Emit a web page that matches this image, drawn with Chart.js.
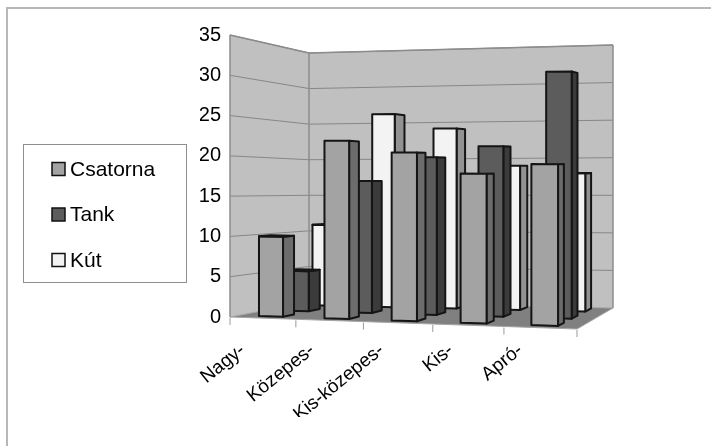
<!DOCTYPE html>
<html>
<head>
<meta charset="utf-8">
<script src="https://cdn.jsdelivr.net/npm/chart.js@4/dist/chart.umd.min.js"></script>
<style>
  html, body { margin: 0; padding: 0; background: #ffffff; }
  canvas { display: block; }
</style>
</head>
<body>
<canvas id="chart" width="711" height="446"></canvas>
<script>
// ---- data ----
const categories = ['Nagy-', 'Közepes-', 'Kis-közepes-', 'Kis-', 'Apró-'];
const seriesLabels = ['Csatorna', 'Tank', 'Kút'];
const csatorna = [10, 22, 20.6, 18.1, 19.3];
const tank = [5.2, 17, 20.1, 21.5, 30.8];
const kut = [11, 26, 24, 19, 18];
const yTicks = [0, 5, 10, 15, 20, 25, 30, 35];

// ---- styling ----
const FONT = '"Liberation Sans", Arial, Helvetica, sans-serif';
const shades = [
  { front: '#a3a3a3', side: '#6c6c6c', top: '#808080' },
  { front: '#5c5c5c', side: '#3b3b3b', top: '#4a4a4a' },
  { front: '#f3f3f3', side: '#929292', top: '#c9c9c9' }
];
const rowDepth = [0.11, 0.46, 0.81];   // 0 = front edge of the floor, 1 = back wall
const rowThickness = 0.15;
const wallColor = '#c0c0c0';
const floorColor = '#808080';
const gridColor = '#878787';
const edgeColor = '#8c8c8c';
const outlineColor = '#151515';

// corner offsets of the perspective box, relative to the chart area
const frame = {
  frontRight: { bottom: 12, top: -4 },
  backLeft: { dx: 79, bottom: -15, top: 18 },
  backRight: { dx: 36, bottom: -9, top: 10 },
  perspective: 0.067
};

function makeProjector(area) {
  const L = area.left, R = area.right, T = area.top, B = area.bottom;
  const c000 = [L, B], c010 = [L, T];
  const c100 = [R, B + frame.frontRight.bottom], c110 = [R, T + frame.frontRight.top];
  const c001 = [L + frame.backLeft.dx, B + frame.backLeft.bottom];
  const c011 = [L + frame.backLeft.dx, T + frame.backLeft.top];
  const c101 = [R + frame.backRight.dx, B + frame.backRight.bottom];
  const c111 = [R + frame.backRight.dx, T + frame.backRight.top];
  const lerp = (p, q, k) => [p[0] + (q[0] - p[0]) * k, p[1] + (q[1] - p[1]) * k];
  const warp = u => u / (1 + frame.perspective * (1 - u));
  return function (u, t, w) {
    const a = warp(u);
    const f = lerp(lerp(c000, c100, a), lerp(c010, c110, a), t);
    const b = lerp(lerp(c001, c101, a), lerp(c011, c111, a), t);
    return lerp(f, b, w);
  };
}

function poly(ctx, pts, fill, stroke, lw) {
  ctx.beginPath();
  ctx.moveTo(pts[0][0], pts[0][1]);
  for (let i = 1; i < pts.length; i++) ctx.lineTo(pts[i][0], pts[i][1]);
  ctx.closePath();
  if (fill) { ctx.fillStyle = fill; ctx.fill(); }
  if (stroke) { ctx.strokeStyle = stroke; ctx.lineWidth = lw; ctx.lineJoin = 'round'; ctx.stroke(); }
}

function line(ctx, a, b, color, lw) {
  ctx.beginPath();
  ctx.moveTo(a[0], a[1]);
  ctx.lineTo(b[0], b[1]);
  ctx.strokeStyle = color;
  ctx.lineWidth = lw;
  ctx.stroke();
}

const scene3d = {
  id: 'scene3d',
  beforeDraw(chart) {
    const ctx = chart.ctx, area = chart.chartArea;
    const P = makeProjector(area);
    const yScale = chart.scales.y;
    const H = area.bottom - area.top;
    ctx.save();
    ctx.fillStyle = '#ffffff';
    ctx.fillRect(0, 0, chart.width, chart.height);

    // outer frame of the chart object
    ctx.strokeStyle = '#b7b7b7';
    ctx.lineWidth = 2;
    ctx.beginPath();
    ctx.moveTo(7, chart.height + 5);
    ctx.lineTo(7, 8);
    ctx.lineTo(chart.width + 5, 8);
    ctx.stroke();

    // walls and floor
    poly(ctx, [P(0, 0, 0), P(0, 1, 0), P(0, 1, 1), P(0, 0, 1)], wallColor);
    poly(ctx, [P(0, 0, 1), P(0, 1, 1), P(1, 1, 1), P(1, 0, 1)], wallColor);
    poly(ctx, [P(0, 0, 0), P(1, 0, 0), P(1, 0, 1), P(0, 0, 1)], floorColor, '#a5a5a5', 1);

    // gridlines on both walls
    yScale.ticks.forEach(tk => {
      const t = (area.bottom - yScale.getPixelForValue(tk.value)) / H;
      if (t <= 0) return;
      ctx.beginPath();
      const a = P(0, t, 0), b = P(0, t, 1), c = P(1, t, 1);
      ctx.moveTo(a[0], a[1]); ctx.lineTo(b[0], b[1]); ctx.lineTo(c[0], c[1]);
      ctx.strokeStyle = gridColor; ctx.lineWidth = 1; ctx.stroke();
    });

    // wall edges
    line(ctx, P(0, 0, 0), P(0, 1, 0), edgeColor, 1.5);
    line(ctx, P(0, 0, 1), P(0, 1, 1), edgeColor, 1.5);
    line(ctx, P(0, 1, 0), P(0, 1, 1), edgeColor, 1.5);
    line(ctx, P(0, 1, 1), P(1, 1, 1), edgeColor, 1.5);
    line(ctx, P(1, 1, 1), P(1, 0, 1), edgeColor, 1.5);

    // category tick marks along the front edge of the floor
    const n = chart.data.labels.length;
    for (let k = 0; k <= n; k++) {
      const p = P(k / n, 0, 0);
      line(ctx, [p[0], p[1] + 1], [p[0], p[1] + 8], '#9a9a9a', 1);
    }
    ctx.restore();
  },
  beforeDatasetsDraw(chart) {
    const ctx = chart.ctx, area = chart.chartArea;
    const P = makeProjector(area);
    const W = area.right - area.left, H = area.bottom - area.top;
    ctx.save();
    for (let i = chart.data.datasets.length - 1; i >= 0; i--) {
      const meta = chart.getDatasetMeta(i);
      const sh = shades[i];
      const w0 = rowDepth[i], w1 = w0 + rowThickness;
      meta.data.forEach(el => {
        const u0 = (el.x - el.width / 2 - area.left) / W;
        const u1 = (el.x + el.width / 2 - area.left) / W;
        const t = (el.base - el.y) / H;
        const front = [P(u0, 0, w0), P(u0, t, w0), P(u1, t, w0), P(u1, 0, w0)];
        const side = [P(u1, 0, w0), P(u1, t, w0), P(u1, t, w1), P(u1, 0, w1)];
        const top = [P(u0, t, w0), P(u1, t, w0), P(u1, t, w1), P(u0, t, w1)];
        poly(ctx, side, sh.side, outlineColor, 2);
        poly(ctx, front, sh.front, outlineColor, 2);
        if (top[3][1] < top[0][1] - 0.2) poly(ctx, top, sh.top, outlineColor, 2);
      });
    }
    ctx.restore();
    return false;
  },
  afterDraw(chart) {
    const ctx = chart.ctx;
    ctx.save();
    // legend box
    const box = { x: 23, y: 144, w: 163, h: 138 };
    ctx.fillStyle = '#ffffff';
    ctx.fillRect(box.x, box.y, box.w, box.h);
    ctx.strokeStyle = '#8e8e8e';
    ctx.lineWidth = 1;
    ctx.strokeRect(box.x + 0.5, box.y + 0.5, box.w, box.h);
    ctx.font = '21px ' + FONT;
    ctx.textBaseline = 'middle';
    ctx.textAlign = 'left';
    chart.data.datasets.forEach((ds, i) => {
      const cy = box.y + 25 + i * 45.5;
      ctx.fillStyle = ds.backgroundColor;
      ctx.fillRect(52, cy - 6.5, 13, 13);
      ctx.strokeStyle = '#111';
      ctx.lineWidth = 1.5;
      ctx.strokeRect(52, cy - 6.5, 13, 13);
      ctx.fillStyle = '#000';
      ctx.fillText(ds.label, 70, cy + 1);
    });
    ctx.restore();
  }
};

const barStyle = { grouped: false, categoryPercentage: 1, barPercentage: 0.37 };

new Chart(document.getElementById('chart'), {
  type: 'bar',
  data: {
    labels: categories,
    datasets: [
      Object.assign({ label: seriesLabels[0], data: csatorna, backgroundColor: shades[0].front }, barStyle),
      Object.assign({ label: seriesLabels[1], data: tank, backgroundColor: shades[1].front }, barStyle),
      Object.assign({ label: seriesLabels[2], data: kut, backgroundColor: shades[2].front }, barStyle)
    ]
  },
  options: {
    responsive: false,
    animation: false,
    devicePixelRatio: 1,
    events: [],
    layout: { padding: { left: 200, right: 134, top: 35, bottom: 29 } },
    plugins: { legend: { display: false }, tooltip: { enabled: false } },
    scales: {
      x: {
        grid: { display: false, drawTicks: false },
        border: { display: false },
        ticks: {
          autoSkip: false, minRotation: 39, maxRotation: 39,
          labelOffset: -22, padding: 22, color: '#000',
          font: { family: FONT, size: 19 }
        },
        afterFit(s) { s.height = 100; }
      },
      y: {
        min: yTicks[0], max: yTicks[yTicks.length - 1],
        grid: { display: false, drawTicks: false },
        border: { display: false },
        ticks: { padding: 9, color: '#000', font: { family: FONT, size: 20 } },
        afterBuildTicks(s) { s.ticks = yTicks.map(v => ({ value: v })); },
        afterFit(s) { s.width = 30; }
      }
    }
  },
  plugins: [scene3d]
});
</script>
</body>
</html>
